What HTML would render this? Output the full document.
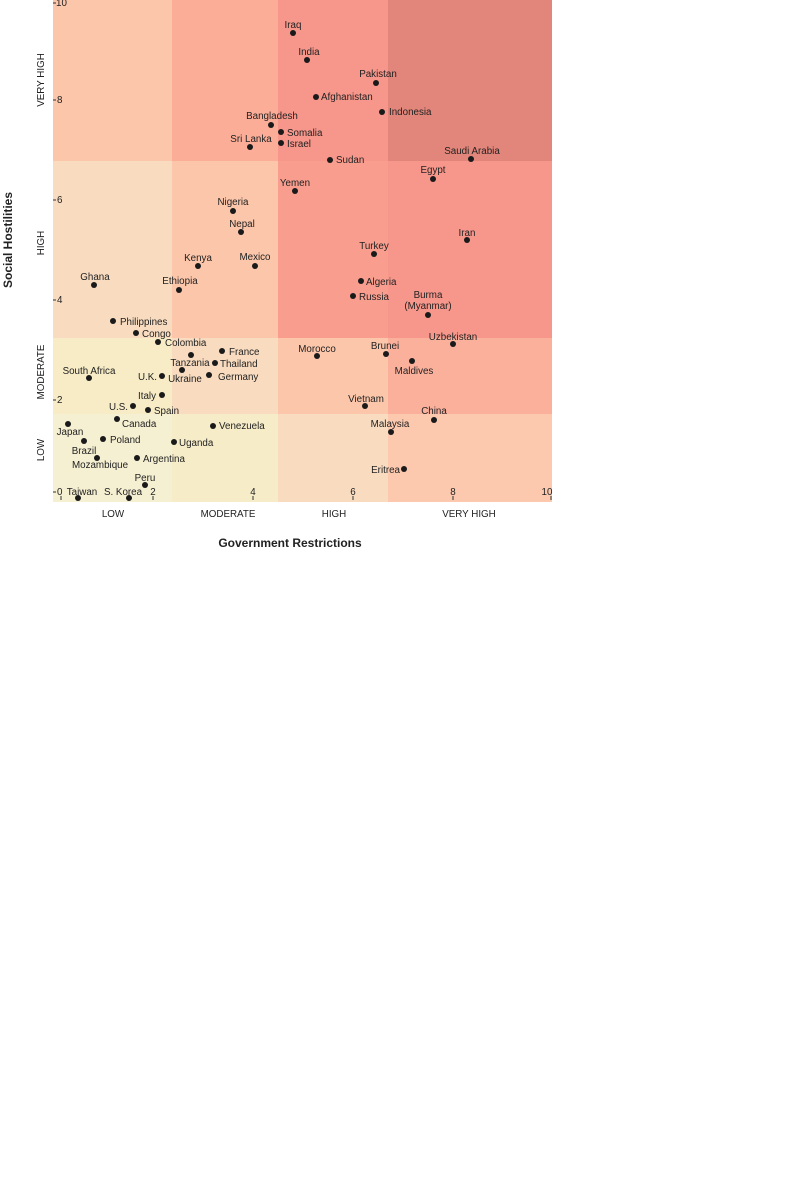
<!DOCTYPE html>
<html><head><meta charset="utf-8"><style>
html,body{margin:0;padding:0;background:#fff;width:800px;height:1200px;overflow:hidden}
svg{display:block}
text{font-family:"Liberation Sans",Arial,sans-serif;font-size:9.8px;fill:#222}
.l{text-anchor:start}.c{text-anchor:middle}.r{text-anchor:end}
.ax{font-size:8.5px;fill:#333}
</style></head><body>
<svg width="800" height="1200" viewBox="0 0 800 1200">
<rect x="53" y="0" width="119" height="161" fill="#fcc6aa"/>
<rect x="172" y="0" width="106" height="161" fill="#fbad98"/>
<rect x="278" y="0" width="110" height="161" fill="#f7968a"/>
<rect x="388" y="0" width="164" height="161" fill="#e2857a"/>
<rect x="53" y="161" width="119" height="177" fill="#f9dcc0"/>
<rect x="172" y="161" width="106" height="177" fill="#fcc6aa"/>
<rect x="278" y="161" width="110" height="177" fill="#f99e8e"/>
<rect x="388" y="161" width="164" height="177" fill="#f7968a"/>
<rect x="53" y="338" width="119" height="76" fill="#f7ecc6"/>
<rect x="172" y="338" width="106" height="76" fill="#f9dcc0"/>
<rect x="278" y="338" width="110" height="76" fill="#fcc6aa"/>
<rect x="388" y="338" width="164" height="76" fill="#fbb09c"/>
<rect x="53" y="414" width="119" height="88" fill="#f6f0d2"/>
<rect x="172" y="414" width="106" height="88" fill="#f6ecc8"/>
<rect x="278" y="414" width="110" height="88" fill="#f9dcc0"/>
<rect x="388" y="414" width="164" height="88" fill="#fcc8ae"/>
<g class="ax">
<text x="56" y="6" class="l">10</text><line x1="53" y1="3" x2="56" y2="3" stroke="#333"/>
<text x="57" y="103" class="l">8</text><line x1="53" y1="100" x2="56" y2="100" stroke="#333"/>
<text x="57" y="203" class="l">6</text><line x1="53" y1="200" x2="56" y2="200" stroke="#333"/>
<text x="57" y="303" class="l">4</text><line x1="53" y1="300" x2="56" y2="300" stroke="#333"/>
<text x="57" y="403" class="l">2</text><line x1="53" y1="400" x2="56" y2="400" stroke="#333"/>
<text x="57" y="495" class="l">0</text><line x1="53" y1="492" x2="56" y2="492" stroke="#333"/>
<text x="153" y="495" class="c">2</text><text x="253" y="495" class="c">4</text><text x="353" y="495" class="c">6</text><text x="453" y="495" class="c">8</text><text x="547" y="495" class="c">10</text>
<g stroke="#333"><line x1="61" y1="496" x2="61" y2="500"/><line x1="153" y1="496" x2="153" y2="500"/><line x1="253" y1="496" x2="253" y2="500"/><line x1="353" y1="496" x2="353" y2="500"/><line x1="453" y1="496" x2="453" y2="500"/><line x1="551" y1="496" x2="551" y2="500"/></g>
</g>
<g class="ax" style="font-size:9.5px">
<text transform="translate(44,80) rotate(-90)" class="c">VERY HIGH</text>
<text transform="translate(44,243) rotate(-90)" class="c">HIGH</text>
<text transform="translate(44,372) rotate(-90)" class="c">MODERATE</text>
<text transform="translate(44,450) rotate(-90)" class="c">LOW</text>
<text x="113" y="517" class="c">LOW</text>
<text x="228" y="517" class="c">MODERATE</text>
<text x="334" y="517" class="c">HIGH</text>
<text x="469" y="517" class="c">VERY HIGH</text>
</g>
<text x="290" y="547" class="c" style="font-size:12px;font-weight:bold">Government Restrictions</text>
<text transform="translate(12,240) rotate(-90)" class="c" style="font-size:12px;font-weight:bold">Social Hostilities</text>
<g fill="#1a1a1a">
<circle cx="293" cy="33" r="3"/><circle cx="307" cy="60" r="3"/><circle cx="376" cy="83" r="3"/><circle cx="316" cy="97" r="3"/><circle cx="382" cy="112" r="3"/><circle cx="271" cy="125" r="3"/><circle cx="281" cy="132" r="3"/><circle cx="281" cy="143" r="3"/><circle cx="250" cy="147" r="3"/><circle cx="330" cy="160" r="3"/><circle cx="471" cy="159" r="3"/><circle cx="433" cy="179" r="3"/><circle cx="295" cy="191" r="3"/><circle cx="233" cy="211" r="3"/><circle cx="241" cy="232" r="3"/><circle cx="467" cy="240" r="3"/><circle cx="198" cy="266" r="3"/><circle cx="255" cy="266" r="3"/><circle cx="374" cy="254" r="3"/><circle cx="94" cy="285" r="3"/><circle cx="179" cy="290" r="3"/><circle cx="361" cy="281" r="3"/><circle cx="353" cy="296" r="3"/><circle cx="428" cy="315" r="3"/><circle cx="113" cy="321" r="3"/><circle cx="136" cy="333" r="3"/><circle cx="453" cy="344" r="3"/><circle cx="158" cy="342" r="3"/><circle cx="222" cy="351" r="3"/><circle cx="317" cy="356" r="3"/><circle cx="386" cy="354" r="3"/><circle cx="191" cy="355" r="3"/><circle cx="215" cy="363" r="3"/><circle cx="412" cy="361" r="3"/><circle cx="89" cy="378" r="3"/><circle cx="162" cy="376" r="3"/><circle cx="182" cy="370" r="3"/><circle cx="209" cy="375" r="3"/><circle cx="162" cy="395" r="3"/><circle cx="133" cy="406" r="3"/><circle cx="148" cy="410" r="3"/><circle cx="365" cy="406" r="3"/><circle cx="434" cy="420" r="3"/><circle cx="117" cy="419" r="3"/><circle cx="213" cy="426" r="3"/><circle cx="68" cy="424" r="3"/><circle cx="391" cy="432" r="3"/><circle cx="103" cy="439" r="3"/><circle cx="174" cy="442" r="3"/><circle cx="84" cy="441" r="3"/><circle cx="137" cy="458" r="3"/><circle cx="97" cy="458" r="3"/><circle cx="404" cy="469" r="3"/><circle cx="145" cy="485" r="3"/><circle cx="78" cy="498" r="3"/><circle cx="129" cy="498" r="3"/>
</g>
<g>
<text x="293" y="28" class="c">Iraq</text>
<text x="309" y="55" class="c">India</text>
<text x="378" y="77" class="c">Pakistan</text>
<text x="321" y="100" class="l">Afghanistan</text>
<text x="389" y="115" class="l">Indonesia</text>
<text x="272" y="119" class="c">Bangladesh</text>
<text x="287" y="136" class="l">Somalia</text>
<text x="287" y="147" class="l">Israel</text>
<text x="251" y="142" class="c">Sri Lanka</text>
<text x="336" y="163" class="l">Sudan</text>
<text x="472" y="154" class="c">Saudi Arabia</text>
<text x="433" y="173" class="c">Egypt</text>
<text x="295" y="186" class="c">Yemen</text>
<text x="233" y="205" class="c">Nigeria</text>
<text x="242" y="227" class="c">Nepal</text>
<text x="467" y="236" class="c">Iran</text>
<text x="198" y="261" class="c">Kenya</text>
<text x="255" y="260" class="c">Mexico</text>
<text x="374" y="249" class="c">Turkey</text>
<text x="95" y="280" class="c">Ghana</text>
<text x="180" y="284" class="c">Ethiopia</text>
<text x="366" y="285" class="l">Algeria</text>
<text x="359" y="300" class="l">Russia</text>
<text x="428" y="298" class="c">Burma</text>
<text x="428" y="309" class="c">(Myanmar)</text>
<text x="120" y="325" class="l">Philippines</text>
<text x="142" y="337" class="l">Congo</text>
<text x="453" y="340" class="c">Uzbekistan</text>
<text x="165" y="346" class="l">Colombia</text>
<text x="229" y="355" class="l">France</text>
<text x="317" y="352" class="c">Morocco</text>
<text x="385" y="349" class="c">Brunei</text>
<text x="190" y="366" class="c">Tanzania</text>
<text x="220" y="367" class="l">Thailand</text>
<text x="414" y="374" class="c">Maldives</text>
<text x="89" y="374" class="c">South Africa</text>
<text x="157" y="380" class="r">U.K.</text>
<text x="185" y="382" class="c">Ukraine</text>
<text x="218" y="380" class="l">Germany</text>
<text x="156" y="399" class="r">Italy</text>
<text x="128" y="410" class="r">U.S.</text>
<text x="154" y="414" class="l">Spain</text>
<text x="366" y="402" class="c">Vietnam</text>
<text x="434" y="414" class="c">China</text>
<text x="122" y="427" class="l">Canada</text>
<text x="219" y="429" class="l">Venezuela</text>
<text x="70" y="435" class="c">Japan</text>
<text x="390" y="427" class="c">Malaysia</text>
<text x="110" y="443" class="l">Poland</text>
<text x="179" y="446" class="l">Uganda</text>
<text x="84" y="454" class="c">Brazil</text>
<text x="143" y="462" class="l">Argentina</text>
<text x="100" y="468" class="c">Mozambique</text>
<text x="400" y="473" class="r">Eritrea</text>
<text x="145" y="481" class="c">Peru</text>
<text x="82" y="495" class="c">Taiwan</text>
<text x="123" y="495" class="c">S. Korea</text>
</g>
</svg>
</body></html>
